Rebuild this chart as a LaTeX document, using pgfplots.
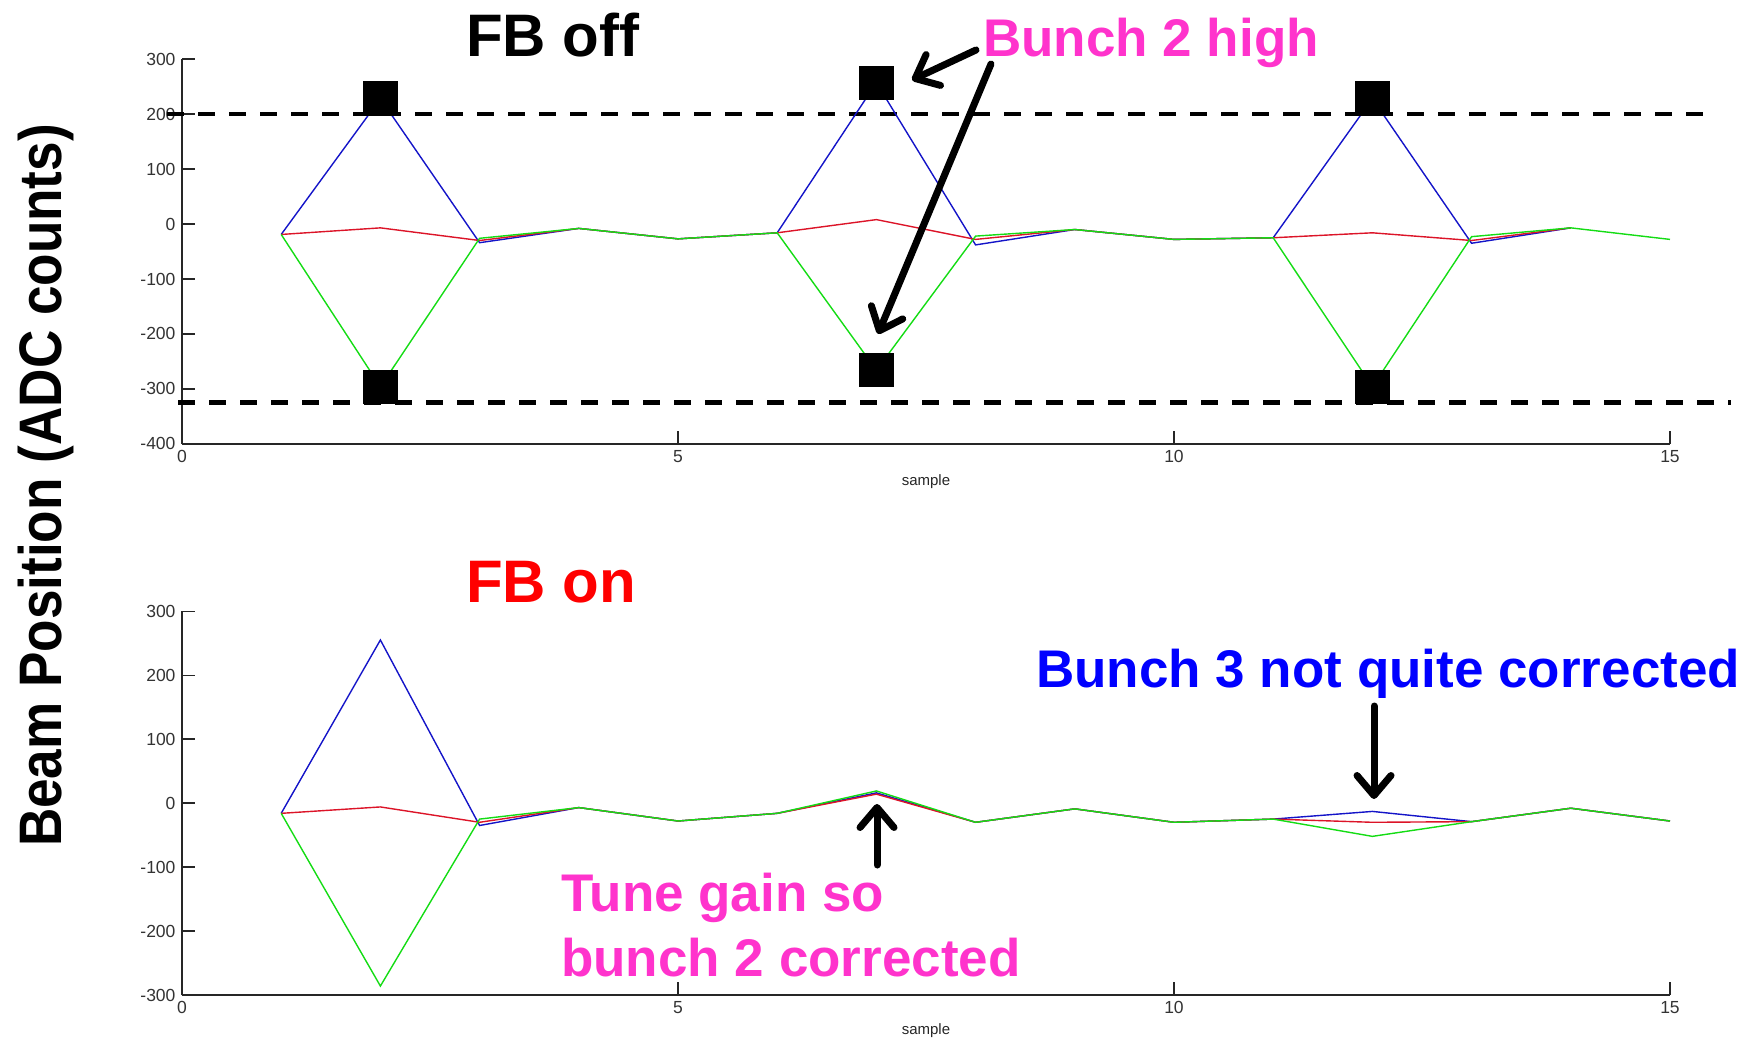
\documentclass[border=0pt]{standalone}
\usepackage{fontspec}
\setmainfont{Liberation Sans}
\usepackage{pgfplots}
\usepackage{pgfplotstable}
\pgfplotsset{compat=1.18}
\usetikzlibrary{arrows.meta}

\definecolor{mblue}{RGB}{20,20,200}
\definecolor{mgreen}{RGB}{20,220,20}
\definecolor{mred}{RGB}{220,20,40}
\definecolor{magentaT}{RGB}{255,51,204}

% FB off
\pgfplotstableread{
x blue red
1 -19 -19
2 228 -7
3 -34 -30
4 -8 -8
5 -27 -27
6 -16 -16
7 257 8
8 -38 -28
9 -10 -10
10 -28 -28
11 -25 -25
12 228 -16
13 -35 -30
14 -7 -7
}\offBR
\pgfplotstableread{
x green
1 -19
2 -296
3 -26
4 -8
5 -27
6 -16
7 -266
8 -22
9 -10
10 -28
11 -25
12 -296
13 -23
14 -7
15 -28
}\offG
% FB on
\pgfplotstableread{
x blue red green
1 -16 -16 -16
2 255 -6 -286
3 -35 -30 -25
4 -7 -7 -7
5 -28 -28 -28
6 -16 -16 -16
7 16 14 19
8 -30 -30 -30
9 -9 -9 -9
10 -30 -30 -30
11 -25 -25 -25
12 -13 -30 -52
13 -29 -29 -29
14 -8 -8 -8
15 -28 -28 -28
}\onData

\pgfplotsset{
  mystyle/.style={
    scale only axis, width=1488pt,
    anchor=south west,
    axis lines=left,
    axis line style={line width=1.3pt, black!85, -},
    xmin=0, xmax=15, xtick={0,5,10,15},
    tick align=inside, major tick length=13pt,
    tick style={line width=1.3pt, black!85},
    ticklabel style={font=\fontsize{17.5}{20}\selectfont, text=black!80},
    xticklabel style={yshift=-3pt},
    yticklabel style={xshift=-3pt},
    /pgf/number format/assume math mode=true,
    xlabel={sample},
    xlabel style={font=\fontsize{15}{18}\selectfont, text=black!85, at={(axis description cs:0.5,0)}, anchor=base},
    clip=false,
    every axis plot/.append style={line width=1.4pt},
  }
}

\begin{document}
\begin{tikzpicture}
% ---------------- FB off ----------------
\begin{axis}[mystyle, at={(182pt,-443.9pt)}, height=384.8pt,
  ymin=-400, ymax=300, ytick={-400,-300,...,300},
  xlabel style={yshift=-42pt}]
\addplot[black, line width=4.5pt, dash pattern=on 17pt off 14pt] coordinates {(-0.149,200) (15.44,200)};
\addplot[black, line width=4.5pt, dash pattern=on 17pt off 14pt] coordinates {(-0.04,-325) (15.61,-325)};
\addplot[mblue, mark=none] table[x=x, y=blue] {\offBR};
\addplot[mred, mark=none] table[x=x, y=red] {\offBR};
\addplot[mgreen, mark=none] table[x=x, y=green] {\offG};
\addplot[only marks, mark=square*, mark size=16.5pt, black] coordinates {(2,228) (7,257) (12,228) (2,-296) (7,-266) (12,-296)};
\end{axis}
% ---------------- FB on ----------------
\begin{axis}[mystyle, at={(182pt,-995pt)}, height=383.8pt,
  ymin=-300, ymax=300, ytick={-300,-200,...,300},
  xlabel style={yshift=-39pt}]
\addplot[mblue, mark=none] table[x=x, y=blue] {\onData};
\addplot[mred, mark=none] table[x=x, y=red] {\onData};
\addplot[mgreen, mark=none] table[x=x, y=green] {\onData};
\end{axis}

% y label
\node[rotate=90, anchor=base, inner sep=0, font=\bfseries\fontsize{60}{66}\selectfont] at (61pt,-485.5pt) {\scalebox{0.885}[1]{Beam Position (ADC counts)}};

% titles and annotations
\node[anchor=base west, inner sep=0, font=\bfseries\fontsize{60}{70}\selectfont] at (466pt,-57pt) {FB off};
\node[anchor=base west, inner sep=0, font=\bfseries\fontsize{60}{70}\selectfont, text=red] at (466pt,-602pt) {FB on};
\node[anchor=base west, inner sep=0, font=\bfseries\fontsize{53}{60}\selectfont, text=magentaT] at (983pt,-56.7pt) {Bunch 2 high};
\node[anchor=base west, inner sep=0, font=\bfseries\fontsize{53}{60}\selectfont, text=blue] at (1036pt,-687.3pt) {Bunch 3 not quite corrected};
\node[anchor=base west, inner sep=0, font=\bfseries\fontsize{53}{60}\selectfont, text=magentaT] at (561pt,-911.7pt) {Tune gain so};
\node[anchor=base west, inner sep=0, font=\bfseries\fontsize{53}{60}\selectfont, text=magentaT] at (561pt,-976.7pt) {bunch 2 corrected};

% arrows
\tikzset{bigarrow/.style={line width=7pt, line cap=round, -{Straight Barb[length=20pt,width=34pt,round]}}}
\draw[bigarrow] (976pt,-50pt) -- (912pt,-80pt);
\draw[bigarrow] (991pt,-64pt) -- (878pt,-334pt);
\draw[bigarrow] (877pt,-865pt) -- (877pt,-804pt);
\draw[bigarrow] (1374pt,-706pt) -- (1374pt,-799pt);

\pgfresetboundingbox
\path (0pt,0pt) rectangle (1749pt,-1040pt);
\end{tikzpicture}
\end{document}
